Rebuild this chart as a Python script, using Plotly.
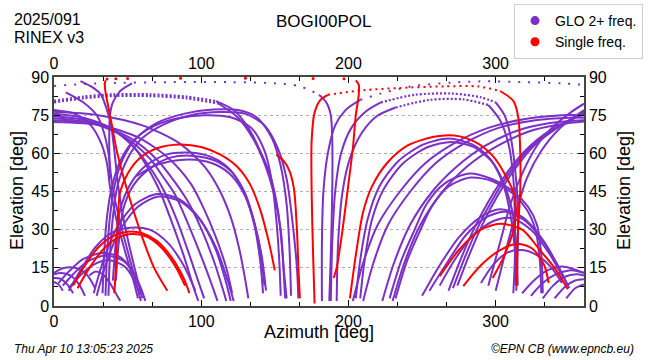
import plotly.graph_objects as go

# ---------------- data: satellite tracks as (azimuth, elevation) points ----------------
# GLONASS dual-frequency tracks (purple)
P1_dot = [(0,86.5),(30,87.5),(80,88),(120,88),(150,87.5),(166,86.5),(175,84.5),(180,83)]
P1_sol = [(180,83),(185,80),(188,75),(189,65),(189,45),(188,20),(187,2)]
T1_sol = [(182,2),(182,25),(183,45),(186,60),(191,71),(198,77),(208,81)]
T1_dot = [(208,81),(225,84),(245,86.5),(270,87.8),(290,88.3),(320,88),(345,87.5),(360,86.9)]
T2_sol = [(188,2),(189,25),(191,45),(195,60),(202,70),(212,76.5),(222,80)]
T2_dot = [(222,80),(245,83),(270,83.5),(290,82),(300,80)]
T2_end = [(300,80),(306,75),(310,67),(313,55),(315,40),(315,22),(314,6)]
T3_sol = [(192,2),(193,25),(196,45),(201,58),(209,68),(219,74.5),(232,78)]
T3_dot = [(232,78),(255,81),(278,81.2),(295,79)]
T3_end = [(295,79),(303,73),(309,63),(312,50),(313,35),(313,18),(312,5)]
D1_dot = [(0,80.6),(20,82.3),(40,83.2),(65,83.2),(90,82.3),(110,80.5)]
D1_sol = [(110,80.5),(122,77),(132,70),(140,61),(147,51),(152,38),(155,22),(157,3)]
D2_dot = [(0,80),(20,81.6),(40,82.5),(65,82.5),(90,81.6),(112,79.5)]
D2_sol = [(112,79.5),(125,74),(135,66),(143,56),(149,45),(154,30),(156,15),(158,3)]
H1 = [(38,50),(37.5,65),(38,75),(40,80),(45,84.5),(53,87.5)]
L1 = [(0,75.6),(20,74),(40,69.5),(55,62),(65,53),(72,45),(80,33),(88,20),(95,7),(98,2)]
L2 = [(0,74.6),(22,73),(43,68),(58,60),(68,52),(75,45),(84,33),(92,20),(99,8),(102,3)]
L3 = [(0,73.8),(25,72),(48,66.5),(65,58),(75,50),(82,44),(92,31),(101,18),(108,7),(111,2)]
L4 = [(0,73),(28,71.5),(52,66),(70,57.5),(83,48),(92,40),(101,29),(109,17),(115,6),(117,2)]
L5 = [(0,72.3),(32,71),(58,66),(78,58),(93,48),(102,38),(110,27),(117,15),(121,5)]
L6 = [(0,76.3),(30,75),(60,71),(85,64),(102,55),(112,46),(120,35),(126,22),(130,10),(132,3)]
S1 = [(18,88.4),(26,86),(32,83),(36,77),(38.5,72),(41,61),(43,50),(46,38),(51,24),(56,12),(60,3)]
S2 = [(8,84),(20,80),(29,75),(34,68),(37,60),(39,50),(42,40),(48,26),(54,13),(59,2)]
S3 = [(0,77),(14,75.5),(25,71),(32,64),(36,56),(38,47),(42,35),(48,22),(54,10),(57,3)]
U1 = [(35,4),(36,20),(38,35),(41,47),(47,58),(56,66),(70,72),(88,75.5),(108,77.2),(125,77),(138,74),(148,66),(154,55),(158,40),(160,22),(161,4)]
U2 = [(37,4),(38,20),(40,35),(43,47),(50,58),(60,66),(75,71.5),(93,75),(113,76.2),(130,75.5),(143,71),(152,62),(158,50),(162,33),(165,15),(166,3)]
U3 = [(33,5),(34,20),(36,35),(39,46),(45,57),(54,65),(67,70.5),(84,73.8),(102,75),(120,74.2),(134,70),(143,61),(148,49),(151,34),(153,18),(154,4)]
M60a = [(40,10),(42,25),(45,38),(52,48),(62,55),(76,59.5),(92,60.3),(107,58.5),(119,54),(128,46),(135,35),(140,22),(143,8)]
M60b = [(42,10),(44,25),(47,38),(54,47.5),(65,54),(79,58.3),(95,59),(110,57),(121,52.5),(130,44),(136,33),(141,20),(144,6)]
M60c = [(56,51),(66,54.5),(80,57),(96,57.5),(110,55.5),(121,51),(130,43),(136,32),(140,18),(142,5)]
A43a = [(27,5),(33,17),(42,30),(55,40),(70,44),(85,42),(98,35),(110,23),(118,10),(122,2)]
A43b = [(29,4),(35,16),(44,29),(57,39),(71,43),(86,41),(99,34),(110,22),(117,9),(120,2)]
PA30 = [(10,6),(18,14),(28,23),(40,29),(52,30.8),(65,30),(77,25),(88,16),(96,6)]
A20a = [(3,9),(10,13.5),(20,18.5),(33,20.8),(45,19.2),(53,14),(59,7),(62,2)]
A20b = [(6,8),(13,12.5),(23,17.5),(35,19.8),(47,17.8),(55,12),(60,5)]
A20c = [(10,7),(17,11.5),(26,16),(37,18),(48,15.5),(55,9.5),(58,5)]
A14 = [(24,12),(28,13.5),(33,12.5),(38,9),(42,5),(45,2)]
C1 = [(0,13),(6,14.8),(14,15),(22,12.5),(28,7)]
C2 = [(0,12.5),(5,13),(11,12),(17,8.5),(21,4)]
C3 = [(0,11),(4,10.8),(9,8.5),(13,5)]
C4 = [(0,9.5),(3,8.5),(6,6)]
RG1 = [(203,2),(210,17),(220,32),(235,45),(252,56),(272,64),(295,70),(320,73.5),(345,75),(360,75)]
RG2 = [(210,2),(217,17),(227,32),(242,45),(259,56),(279,64),(302,70),(327,73),(350,74),(360,74)]
RG3 = [(223,2),(231,17),(242,32),(257,45),(274,55),(293,63),(315,69),(338,72),(360,73)]
RG4 = [(230,2),(238,17),(249,32),(264,45),(281,55),(300,62.5),(322,68.5),(345,71.5),(360,72.5)]
RF1 = [(268,6),(276,18),(285,30),(295,41),(306,51),(320,61),(337,69),(360,75.5)]
RF2 = [(271,7),(279,19),(288,31),(298,42),(309,52),(323,62),(340,69.5),(360,76)]
RF3 = [(274,8),(282,20),(291,32),(301,43),(312,53),(326,63),(343,70.5),(360,76.5)]
RF4 = [(295,8),(303,25),(310,40),(318,52),(328,63),(340,71),(352,76.5),(360,79.5)]
RF5 = [(300,6),(307,22),(314,37),(321,50),(331,61),(343,69.5),(360,77)]
M66a = [(205,3),(208,18),(213,34),(221,47),(234,57),(251,63.5),(268,65.8),(284,63.5),(296,58),(305,49),(311,38),(314,24),(315,8)]
M66b = [(208,3),(211,18),(216,34),(224,46),(237,56),(254,62.5),(270,64.5),(285,62.5),(297,57),(305,48),(310,36),(313,22),(314,8)]
A51a = [(228,3),(236,18),(245,30),(253,40),(265,48),(281,52),(297,50),(312,45),(322,39),(328,32),(331,20),(332,5)]
A51b = [(232,3),(240,18),(249,30),(257,39.5),(268,47),(283,50.5),(298,49),(312,44),(321,38),(327,30),(330,18),(331,5)]
A37a = [(250,4),(262,16),(275,27),(290,35),(303,38),(318,35),(332,26),(342,16),(349,8)]
A37b = [(255,6),(267,17),(280,28),(294,35),(307,37),(321,33),(334,24),(344,14),(350,7)]
A37c = [(262,8),(272,18),(285,28),(299,33.5),(311,34.5),(324,30),(336,21),(346,11)]
B1 = [(290,9),(298,16),(308,21),(318,22),(328,20),(338,15),(345,9)]
B2 = [(318,5),(326,10),(335,14),(345,15.5),(353,14.5),(360,13)]
B3 = [(324,4),(332,9),(341,12.5),(350,14),(357,13.5),(360,13)]
B4 = [(332,3),(339,8),(347,11.5),(355,12.5),(360,12)]
B5 = [(340,3),(347,7.5),(354,10),(360,10.5)]
B6 = [(348,3),(354,7),(360,8.5)]

# single-frequency tracks (red)
R1 = [(35,88.7),(34.5,87),(35,84),(37,78),(39,72),(43,60),(50,45),(60,27),(68,15),(77,6)]
R_top = [(36,89.2),(42,89.3),(50,89.4),(86,89.5),(130,89.5),(176,89.4),(197,89.3)]
R4 = [(205,88.7),(207,87),(207,83),(205,75),(203,62),(200,48),(196,30),(192,15),(190,11)]
R2 = [(41,5),(42,15),(43,30),(45,45),(50,52),(58,58),(70,62),(85,63.5),(100,62.5),(113,59.5),(124,55),(133,48),(140,38),(146,25),(150,14)]
R3_sol = [(177,1),(176,20),(175,45),(175,65),(177,76),(181,81),(186,83)]
R3_dot = [(186,83),(210,84.8),(235,85.7),(265,86.3),(288,86.3),(303,84.5)]
R3_end = [(303,84.5),(312,80.6),(315.4,74),(316.7,60),(316.7,45.6),(315,28),(314,8)]
R5 = [(201,3),(205,20),(210,37),(216,47),(226,56),(240,63),(258,66.5),(272,67),(286,64.5),(298,59),(307,51),(313,43),(313,32),(306,20),(298,11)]
R6 = [(151,59.5),(156,57),(160,53),(163,46),(165,30),(166,15),(167,3)]
RA29a = [(13,8),(20,15),(30,23),(40,27.5),(50,29.2),(60,28.6),(70,25.5),(80,19),(88,11),(92,5)]
RA29b = [(16,7),(23,14),(33,22),(43,26.8),(52,28.3),(62,27.5),(72,23.5),(82,16),(89,8)]
RA32 = [(262,11.7),(275,22),(290,30),(303,32.3),(318,30),(330,22),(340,15),(349,6.6)]
RA24 = [(278,7.8),(290,16),(303,22),(315,24.5),(325,22.5),(333,16),(336,9)]

purple_solid = [P1_sol, T1_sol, T2_sol, T2_end, T3_sol, T3_end, D1_sol, D2_sol, H1,
                L1, L2, L3, L4, L5, L6, S1, S2, S3, U1, U2, U3, M60a, M60b, M60c,
                A43a, A43b, PA30, A20a, A20b, A20c, A14, C1, C2, C3, C4,
                RG1, RG2, RG3, RG4, RF1, RF2, RF3, RF4, RF5, M66a, M66b,
                A51a, A51b, A37a, A37b, A37c, B1, B2, B3, B4, B5, B6]
purple_dotted_sparse = [P1_dot, T1_dot]
purple_dotted_dense = [T2_dot, T3_dot, D1_dot, D2_dot]
red_solid = [R1, R4, R2, R3_sol, R3_end, R5, R6, RA29a, RA29b, RA32, RA24]
red_dotted = [R3_dot]
red_dots = [R_top]

legend_names = ["GLO 2+ freq.", "Single freq."]

# ---------------- styling ----------------
PURPLE = "#7b30c8"
RED = "#ff0000"
FONT = "Liberation Sans, Arial, sans-serif"
L, R, T, B = 54, 66, 77, 54
W, H = 650, 360
PW, PH = W - L - R, H - T - B

def px(x):
    return (x - L) / PW

def py(y):
    return (H - B - y) / PH

fig = go.Figure()

def add_track(pts, color, width=2, dash="solid"):
    fig.add_trace(go.Scatter(
        x=[p[0] for p in pts], y=[p[1] for p in pts], mode="lines",
        line=dict(color=color, width=width, dash=dash, shape="spline", smoothing=0.8),
        showlegend=False, hoverinfo="skip"))

for t in purple_solid:
    add_track(t, PURPLE, 2)
for t in purple_dotted_sparse:
    add_track(t, PURPLE, 2, "2px,8px")
for t in purple_dotted_dense:
    add_track(t, PURPLE, 2.2, "2px,2px")
for t in red_solid:
    add_track(t, RED, 2)
for t in red_dotted:
    add_track(t, RED, 2, "2px,4px")
for t in red_dots:
    fig.add_trace(go.Scatter(x=[p[0] for p in t], y=[p[1] for p in t], mode="markers",
                             marker=dict(color=RED, size=3), showlegend=False, hoverinfo="skip"))

# legend entries
for name, col in zip(legend_names, [PURPLE, RED]):
    fig.add_trace(go.Scatter(x=[None], y=[None], mode="markers", name=name,
                             marker=dict(color=col, size=9, symbol="circle")))

# invisible trace for secondary axes
fig.add_trace(go.Scatter(x=[0, 360], y=[0, 90], xaxis="x2", yaxis="y2", mode="markers",
                         marker=dict(opacity=0), showlegend=False, hoverinfo="skip"))

tickfont = dict(family=FONT, size=16, color="black")
common_x = dict(range=[0, 360], tickmode="array", tickvals=[0, 100, 200, 300],
                ticks="inside", ticklen=6, tickcolor="black", showline=True,
                linecolor="#444", linewidth=1.5, showgrid=False, zeroline=False,
                tickfont=tickfont, automargin=False,
                minor=dict(ticks="inside", ticklen=4, tickcolor="black",
                           tickvals=[100/3, 200/3, 400/3, 500/3, 700/3, 800/3, 1000/3, 1100/3]))
common_y = dict(range=[0, 90], tickmode="array", tickvals=[0, 15, 30, 45, 60, 75, 90],
                ticks="inside", ticklen=6, tickcolor="black", showline=True,
                linecolor="#444", linewidth=1.5, zeroline=False, tickfont=tickfont,
                automargin=False,
                minor=dict(ticks="inside", ticklen=4, tickcolor="black", dtick=7.5, tick0=0))

fig.update_layout(
    width=W, height=H, margin=dict(l=L, r=R, t=T, b=B, autoexpand=False),
    paper_bgcolor="white", plot_bgcolor="white",
    font=dict(family=FONT, color="black"),
    xaxis=dict(**common_x, side="bottom"),
    xaxis2=dict(**common_x, side="top", overlaying="x", anchor="y"),
    yaxis=dict(**common_y, side="left", showgrid=True, gridcolor="#b0b0b0",
               griddash="dot", gridwidth=1),
    yaxis2=dict(**common_y, side="right", overlaying="y", anchor="x", showgrid=False),
    legend=dict(x=px(643), y=py(4), xanchor="right", yanchor="top",
                bgcolor="white", bordercolor="#d0d0d0", borderwidth=1,
                font=dict(family=FONT, size=14), tracegroupgap=0,
                itemwidth=30),
    showlegend=True,
)

ann = [
    dict(text="2025/091", x=px(12), y=py(20), xanchor="left", yanchor="middle", size=16),
    dict(text="RINEX v3", x=px(12), y=py(37), xanchor="left", yanchor="middle", size=16),
    dict(text="BOGI00POL", x=px(323), y=py(21), xanchor="center", yanchor="middle", size=17),
    dict(text="Azimuth [deg]", x=px(319), y=py(332), xanchor="center", yanchor="middle", size=18),
]
for a in ann:
    fig.add_annotation(text=a["text"], x=a["x"], y=a["y"], xref="paper", yref="paper",
                       xanchor=a["xanchor"], yanchor=a["yanchor"], showarrow=False,
                       font=dict(family=FONT, size=a["size"], color="black"))
for xp in (17, 624):
    fig.add_annotation(text="Elevation [deg]", x=px(xp), y=py(191), xref="paper", yref="paper",
                       textangle=-90, showarrow=False, xanchor="center", yanchor="middle",
                       font=dict(family=FONT, size=18, color="black"))
fig.add_annotation(text="<i>Thu Apr 10 13:05:23 2025</i>", x=px(12), y=py(349), xref="paper",
                   yref="paper", xanchor="left", yanchor="middle", showarrow=False,
                   font=dict(family=FONT, size=12, color="black"))
fig.add_annotation(text="<i>©EPN CB (www.epncb.eu)</i>", x=px(636), y=py(349), xref="paper",
                   yref="paper", xanchor="right", yanchor="middle", showarrow=False,
                   font=dict(family=FONT, size=12, color="black"))

fig.write_html("out.html", config={"displayModeBar": False},
               post_script="document.body.style.margin='0';document.body.style.padding='0';")
